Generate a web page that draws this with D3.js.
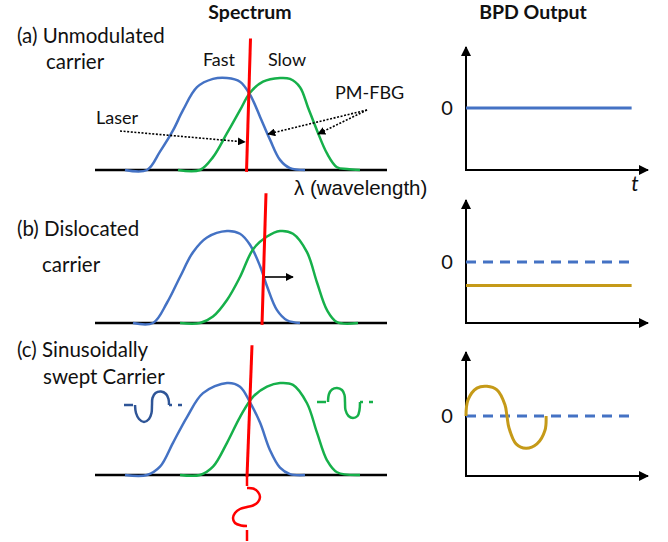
<!DOCTYPE html>
<html>
<head>
<meta charset="utf-8">
<script src="https://cdn.jsdelivr.net/npm/d3@7"></script>
<style>
  body { margin: 0; background: #fff; }
  svg { display: block; }
  .lbl { font-family: Lato, "Open Sans", sans-serif; font-size: 18px; fill: #111; }
  .side { font-size: 20.5px; }
  .ttl { font-family: Lato, "Open Sans", sans-serif; font-size: 19.5px; font-weight: bold; fill: #111; }
</style>
</head>
<body>
<svg id="chart" width="668" height="542"></svg>
<script>
// spectra: [wavelength offset, normalised transmission]
const fastA = [[30, 0], [52, 0], [65, 0.2], [78, 0.43], [88, 0.65], [102, 0.9], [118, 0.99], [132, 1.0], [145, 0.96], [155, 0.82], [165, 0.58], [175, 0.33], [185, 0.11], [195, 0.02], [210, 0]];
const slowA = [[83, 0], [105, 0], [118, 0.14], [132, 0.4], [145, 0.65], [155, 0.84], [168, 0.96], [185, 1.0], [195, 0.99], [205, 0.9], [213, 0.68], [222, 0.43], [232, 0.18], [242, 0.03], [252, 0.01], [265, 0]];
const fastB = [[38, 0], [58, 0], [72, 0.22], [85, 0.5], [98, 0.77], [112, 0.93], [132, 1.0], [145, 0.97], [155, 0.85], [165, 0.62], [172, 0.4], [182, 0.14], [192, 0.03], [205, 0]];
const slowB = [[85, 0], [105, 0], [118, 0.07], [132, 0.25], [145, 0.5], [158, 0.8], [172, 0.94], [185, 1.0], [198, 0.97], [212, 0.77], [222, 0.44], [232, 0.14], [242, 0.01], [263, 0]];
const fastC = [[30, 0], [52, 0], [65, 0.09], [78, 0.35], [92, 0.63], [108, 0.89], [132, 1.0], [145, 0.96], [155, 0.79], [165, 0.57], [175, 0.27], [185, 0.08], [195, 0.01], [210, 0]];
const slowC = [[85, 0], [105, 0], [118, 0.09], [132, 0.35], [145, 0.63], [158, 0.85], [172, 0.96], [185, 1.0], [198, 0.98], [212, 0.78], [222, 0.46], [232, 0.16], [242, 0.03], [265, 0]];

// laser line: [wavelength offset, transmission] at top and bottom
const laserA = [[155.5, 1.43], [151.5, -0.02]];
const laserB = [[171, 1.41], [167, -0.02]];
const laserC = [[157, 1.41], [152, -0.02]];

// BPD output traces: [time, value]
const zeroLine = [[0, 0], [9.2, 0]];
const bpdA = [[0, 0], [9.1, 0]];
const bpdB = [[0, -0.38], [9.1, -0.38]];
const bpdC = [[0, 0], [0.11, 0.26], [0.6, 0.45], [1.15, 0.48], [1.7, 0.42], [2.14, 0.18], [2.25, 0],
  [2.36, -0.19], [2.75, -0.45], [3.3, -0.52], [3.9, -0.45], [4.34, -0.23], [4.4, 0]];

// small sweep glyphs in (c): [dx, dy] around an anchor
const glyphBlue = [[0, 0], [1, 8], [4, 14], [9, 17], [14, 14], [16.5, 8], [17, 0], [17.5, -7], [20.5, -12], [26, -13.5], [31, -11], [33.5, -6], [34, 0]];
const glyphGreen = [[0, 0], [1, -8], [4, -12.5], [9, -14], [14, -12], [16.5, -7], [17, 0], [17.5, 8], [20.5, 14], [25, 16], [29.5, 14], [31.5, 8], [32, 0]];
const glyphRed = [[0, 0], [6, 0.5], [11, 4], [13, 9], [11, 14], [6, 17.5], [0, 19], [-7, 21], [-12, 25], [-14, 30], [-12, 35], [-6, 37.5], [0, 38]];

const labels = ['(a) Unmodulated', 'carrier', '(b) Dislocated', 'carrier', '(c) Sinusoidally', 'swept Carrier'];

const blue = '#4472c4';
const green = '#16b04a';
const red = '#ff0000';
const gold = '#c59a18';

const svg = d3.select('#chart');

const defs = svg.append('defs');
const mk = (id, size) => defs.append('marker')
  .attr('id', id)
  .attr('viewBox', '0 0 10 10')
  .attr('refX', 9)
  .attr('refY', 5)
  .attr('markerUnits', 'userSpaceOnUse')
  .attr('markerWidth', size)
  .attr('markerHeight', size)
  .attr('orient', 'auto')
  .append('path')
  .attr('d', 'M0,0L10,5L0,10z')
  .attr('fill', '#000');
mk('ah', 10);
mk('ahs', 8);

const line = (x, y) => d3.line().x((d) => x(d[0])).y((d) => y(d[1]));

// spectrum panels
const specPanels = [
  { base: 170, fast: fastA, slow: slowA, laser: laserA },
  { base: 323, fast: fastB, slow: slowB, laser: laserB },
  { base: 475, fast: fastC, slow: slowC, laser: laserC },
];

const specX = d3.scaleLinear().domain([0, 292]).range([95, 387]);

specPanels.forEach((p) => {
  const y = d3.scaleLinear().domain([0, 1]).range([p.base, p.base - 92]);
  p.y = y;
  const g = svg.append('g');
  g.append('line')
    .attr('x1', specX(0)).attr('x2', specX(292))
    .attr('y1', y(0)).attr('y2', y(0))
    .attr('stroke', '#000').attr('stroke-width', 2.5);
  g.append('path')
    .datum(p.fast)
    .attr('d', line(specX, y).curve(d3.curveCatmullRom.alpha(0.5)))
    .attr('fill', 'none').attr('stroke', blue).attr('stroke-width', 2.5);
  g.append('path')
    .datum(p.slow)
    .attr('d', line(specX, y).curve(d3.curveCatmullRom.alpha(0.5)))
    .attr('fill', 'none').attr('stroke', green).attr('stroke-width', 2.5);
  g.append('path')
    .datum(p.laser)
    .attr('d', line(specX, y))
    .attr('fill', 'none').attr('stroke', red).attr('stroke-width', 3);
});

// (a) annotations
svg.append('text').attr('class', 'ttl').attr('x', 250).attr('y', 19)
  .attr('text-anchor', 'middle').text('Spectrum');
svg.append('text').attr('class', 'lbl').attr('x', 219).attr('y', 66)
  .attr('text-anchor', 'middle').text('Fast');
svg.append('text').attr('class', 'lbl').attr('x', 287).attr('y', 66)
  .attr('text-anchor', 'middle').text('Slow');
svg.append('text').attr('class', 'lbl').attr('x', 335).attr('y', 99).text('PM-FBG');
svg.append('text').attr('class', 'lbl').attr('x', 96).attr('y', 124).text('Laser');

const dotted = [
  [[120, 131], [245, 142]],
  [[367, 110], [268, 134]],
  [[367, 110], [318, 134]],
];
svg.selectAll('.dot-arrow')
  .data(dotted)
  .join('line')
  .attr('class', 'dot-arrow')
  .attr('x1', (d) => d[0][0]).attr('y1', (d) => d[0][1])
  .attr('x2', (d) => d[1][0]).attr('y2', (d) => d[1][1])
  .attr('stroke', '#000').attr('stroke-width', 1.6)
  .attr('stroke-dasharray', '2,1.6')
  .attr('marker-end', 'url(#ahs)');

svg.append('text')
  .attr('x', 294).attr('y', 195)
  .style('font-family', '"Liberation Sans", Arial, sans-serif')
  .style('font-size', '20.5px')
  .attr('fill', '#111')
  .text('λ (wavelength)');

// (b) shift arrow
const yb = specPanels[1].y;
svg.append('line')
  .attr('x1', specX(170)).attr('x2', specX(198))
  .attr('y1', yb(0.5)).attr('y2', yb(0.5))
  .attr('stroke', '#000').attr('stroke-width', 1.6)
  .attr('marker-end', 'url(#ahs)');

// (c) sweep glyphs
const glyph = (pts, x0, y0, col, vertical) => {
  const gl = d3.line()
    .x((d) => x0 + d[0])
    .y((d) => y0 + d[1])
    .curve(d3.curveCatmullRom.alpha(0.5));
  svg.append('path')
    .datum(pts)
    .attr('d', gl)
    .attr('fill', 'none').attr('stroke', col).attr('stroke-width', 2.5);
  if (!vertical) {
    const w = pts[pts.length - 1][0];
    svg.append('line').attr('x1', x0 - 11).attr('x2', x0 - 2).attr('y1', y0).attr('y2', y0)
      .attr('stroke', col).attr('stroke-width', 2.5);
    svg.append('line').attr('x1', x0 + w).attr('x2', x0 + w + 3).attr('y1', y0).attr('y2', y0)
      .attr('stroke', col).attr('stroke-width', 2.5);
    svg.append('line').attr('x1', x0 + w + 9).attr('x2', x0 + w + 13).attr('y1', y0).attr('y2', y0)
      .attr('stroke', col).attr('stroke-width', 2.5);
  } else {
    svg.append('line').attr('x1', x0).attr('x2', x0).attr('y1', y0 - 12).attr('y2', y0 - 2)
      .attr('stroke', col).attr('stroke-width', 2.5);
    svg.append('line').attr('x1', x0).attr('x2', x0).attr('y1', y0 + 42).attr('y2', y0 + 53)
      .attr('stroke', col).attr('stroke-width', 2.5);
  }
};
glyph(glyphBlue, 135, 405, '#2f5597', false);
glyph(glyphGreen, 328, 402, green, false);
glyph(glyphRed, 247, 488, red, true);

// left labels
const labelPos = [[17, 43], [46, 69], [17, 236], [42, 272], [17, 357], [43, 384]];
svg.selectAll('.side')
  .data(labels)
  .join('text')
  .attr('class', 'lbl side')
  .attr('x', (d, i) => labelPos[i][0])
  .attr('y', (d, i) => labelPos[i][1])
  .text((d) => d);

// BPD output panels
svg.append('text').attr('class', 'ttl').attr('x', 533).attr('y', 19)
  .attr('text-anchor', 'middle').text('BPD Output');

const bpdX = d3.scaleLinear().domain([0, 10]).range([466, 648]);
const bpdPanels = [
  { zero: 108, top: 47, bottom: 170, dashed: false, trace: bpdA, col: blue },
  { zero: 262, top: 200, bottom: 323, dashed: true, trace: bpdB, col: gold },
  { zero: 416, top: 352, bottom: 476, dashed: true, trace: bpdC, col: gold },
];

bpdPanels.forEach((p, i) => {
  const y = d3.scaleLinear().domain([-1, 1]).range([p.zero + 62, p.zero - 62]);
  const g = svg.append('g');
  g.append('line')
    .attr('x1', bpdX(0)).attr('x2', bpdX(0))
    .attr('y1', p.bottom).attr('y2', p.top)
    .attr('stroke', '#000').attr('stroke-width', 2)
    .attr('marker-end', 'url(#ah)');
  g.append('line')
    .attr('x1', bpdX(0) - 1).attr('x2', bpdX(10))
    .attr('y1', p.bottom).attr('y2', p.bottom)
    .attr('stroke', '#000').attr('stroke-width', 2)
    .attr('marker-end', 'url(#ah)');
  g.append('text').attr('class', 'lbl')
    .style('font-size', '20px')
    .attr('x', 447).attr('y', y(0) + 7)
    .attr('text-anchor', 'middle').text('0');
  if (p.dashed) {
    g.append('path')
      .datum(zeroLine)
      .attr('d', line(bpdX, y))
      .attr('fill', 'none').attr('stroke', blue).attr('stroke-width', 3)
      .attr('stroke-dasharray', '10,7');
  }
  g.append('path')
    .datum(p.trace)
    .attr('d', line(bpdX, y).curve(d3.curveCatmullRom.alpha(0.5)))
    .attr('fill', 'none').attr('stroke', p.col).attr('stroke-width', 3);
  if (i === 0) {
    g.append('text').attr('class', 'lbl')
      .attr('x', 635).attr('y', 191)
      .style('font-style', 'italic')
      .style('font-size', '21px')
      .attr('text-anchor', 'middle').text('t');
  }
});
</script>
</body>
</html>
